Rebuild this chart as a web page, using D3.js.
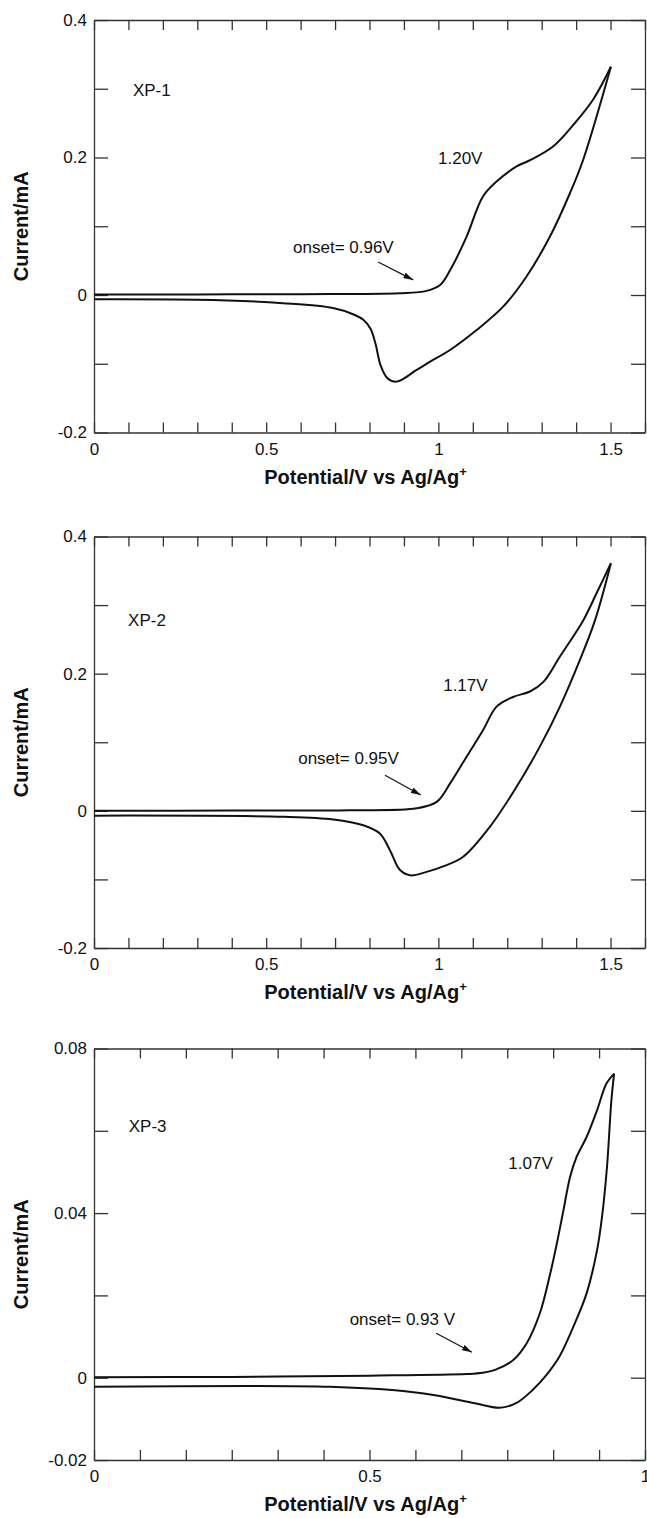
<!DOCTYPE html>
<html>
<head>
<meta charset="utf-8">
<script src="https://cdnjs.cloudflare.com/ajax/libs/d3/7.8.5/d3.min.js"></script>
<style>
  body { margin: 0; background: #fff; }
  svg { display: block; }
</style>
</head>
<body>
<div class="cv"></div>
<script>
//Width and height of the page-sized svg
var widthSVG = 647;
var heightSVG = 1518;
var plotLeft = 94;
var plotRight = 645;
var fontName = "'Liberation Sans', Arial, Helvetica, sans-serif";

// ---- data: [potential V, current mA] ----
// XP-1 forward (anodic) scan and reverse scan
var xp1Forward = [[0,0.0008],[0.3,0.0009],[0.6,0.0012],[0.888,0.0025],[0.966,0.006],[1.005,0.0145],
  [1.034,0.036],[1.082,0.085],[1.129,0.143],[1.169,0.165],[1.227,0.187],[1.266,0.196],
  [1.333,0.216],[1.391,0.247],[1.449,0.284],[1.501,0.332]];
var xp1Reverse = [[1.501,0.332],[1.420,0.196],[1.382,0.148],[1.324,0.085],[1.256,0.027],[1.188,-0.017],
  [1.111,-0.051],[1.034,-0.080],[0.976,-0.097],[0.937,-0.109],[0.879,-0.126],[0.852,-0.121],
  [0.832,-0.102],[0.818,-0.072],[0.803,-0.049],[0.782,-0.036],[0.752,-0.028],[0.694,-0.019],
  [0.549,-0.012],[0.346,-0.0073],[0,-0.0062]];

// XP-2
var xp2Forward = [[0,0.0002],[0.4,0.0004],[0.743,0.0008],[0.937,0.0037],[0.995,0.013],[1.034,0.040],
  [1.082,0.079],[1.130,0.118],[1.169,0.152],[1.217,0.166],[1.266,0.174],[1.305,0.188],
  [1.353,0.225],[1.421,0.278],[1.460,0.318],[1.501,0.361]];
var xp2Reverse = [[1.501,0.361],[1.455,0.278],[1.411,0.220],[1.353,0.152],[1.295,0.094],[1.227,0.035],
  [1.150,-0.023],[1.072,-0.067],[1.014,-0.081],[0.966,-0.089],[0.918,-0.094],[0.888,-0.086],
  [0.859,-0.057],[0.830,-0.033],[0.782,-0.021],[0.695,-0.0125],[0.550,-0.0086],[0,-0.007]];

// XP-3
var xp3Forward = [[0,0.0001],[0.25,0.0002],[0.5,0.0005],[0.676,0.0009],[0.706,0.0012],[0.728,0.0019],
  [0.761,0.0043],[0.785,0.0083],[0.809,0.0156],[0.828,0.0253],[0.840,0.0326],[0.852,0.0407],
  [0.864,0.0488],[0.876,0.0537],[0.894,0.0585],[0.913,0.065],[0.930,0.0715],[0.944,0.0739]];
var xp3Reverse = [[0.944,0.0739],[0.939,0.0674],[0.931,0.0512],[0.922,0.0391],[0.913,0.031],
  [0.894,0.0205],[0.870,0.0124],[0.845,0.0052],[0.822,0.0008],[0.796,-0.003],[0.766,-0.0062],
  [0.736,-0.0073],[0.691,-0.0062],[0.616,-0.0042],[0.541,-0.003],[0.428,-0.0022],
  [0.278,-0.0020],[0,-0.0022]];

// tick labels
var xp1XLabelValues = [0, 0.5, 1, 1.5];
var xp1XLabels = ["0", "0.5", "1", "1.5"];
var xp1YLabelValues = [-0.2, 0, 0.2, 0.4];
var xp1YLabels = ["-0.2", "0", "0.2", "0.4"];
var xp3XLabelValues = [0, 0.5, 1];
var xp3XLabels = ["0", "0.5", "1"];
var xp3YLabelValues = [-0.02, 0, 0.04, 0.08];
var xp3YLabels = ["-0.02", "0", "0.04", "0.08"];

// annotations: [text, V, mA]
var xp1Notes = [["XP-1", 0.113, 0.290], ["1.20V", 0.999, 0.1905], ["onset= 0.96V", 0.578, 0.0615]];
var xp2Notes = [["XP-2", 0.099, 0.2695], ["1.17V", 1.014, 0.174], ["onset= 0.95V", 0.593, 0.069]];
var xp3Notes = [["XP-3", 0.063, 0.0597], ["1.07V", 0.752, 0.0507], ["onset= 0.93 V", 0.464, 0.0128]];
// onset arrows: [from V, from mA, to V, to mA]
var xp1Arrow = [0.825, 0.048, 0.927, 0.022];
var xp2Arrow = [0.845, 0.052, 0.949, 0.023];
var xp3Arrow = [0.621, 0.0108, 0.686, 0.0062];

var panels = [
  { top: 20, bottom: 432.5, xDomain: [0, 1.6], yDomain: [-0.2, 0.4], xStep: 0.1, yStep: 0.1,
    xLV: xp1XLabelValues, xL: xp1XLabels, yLV: xp1YLabelValues, yL: xp1YLabels,
    fwd: xp1Forward, rev: xp1Reverse, notes: xp1Notes, arrow: xp1Arrow },
  { top: 536.5, bottom: 948, xDomain: [0, 1.6], yDomain: [-0.2, 0.4], xStep: 0.1, yStep: 0.1,
    xLV: xp1XLabelValues, xL: xp1XLabels, yLV: xp1YLabelValues, yL: xp1YLabels,
    fwd: xp2Forward, rev: xp2Reverse, notes: xp2Notes, arrow: xp2Arrow },
  { top: 1048.5, bottom: 1460, xDomain: [0, 1], yDomain: [-0.02, 0.08], xStep: 1 / 12, yStep: 0.02,
    xLV: xp3XLabelValues, xL: xp3XLabels, yLV: xp3YLabelValues, yL: xp3YLabels,
    fwd: xp3Forward, rev: xp3Reverse, notes: xp3Notes, arrow: xp3Arrow }
];

//Create SVG element
var svg = d3.select(".cv")
  .append("svg")
  .attr("width", widthSVG)
  .attr("height", heightSVG);

// arrow head
svg.append("defs").append("marker")
  .attr("id", "head")
  .attr("viewBox", "0 0 10 6")
  .attr("refX", 10)
  .attr("refY", 3)
  .attr("markerWidth", 10)
  .attr("markerHeight", 6)
  .attr("markerUnits", "userSpaceOnUse")
  .attr("orient", "auto")
  .append("path")
  .attr("d", "M0,0 L10,3 L0,6 Z")
  .attr("fill", "#111");

function steps(domain, step) {
  var n = Math.round((domain[1] - domain[0]) / step);
  return d3.range(n + 1).map(function(k) { return domain[0] + k * step; });
}

function styleAxis(g) {
  g.selectAll("path, line").attr("stroke", "#333").attr("stroke-width", 1.3);
  g.attr("font-family", fontName).attr("font-size", 17);
  g.selectAll("text").attr("fill", "#111");
}

panels.forEach(function(p) {
  var xScale = d3.scaleLinear().domain(p.xDomain).range([plotLeft, plotRight]);
  var yScale = d3.scaleLinear().domain(p.yDomain).range([p.bottom, p.top]);
  var xTicks = steps(p.xDomain, p.xStep);
  var yTicks = steps(p.yDomain, p.yStep);

  // box with inward ticks on all four sides
  svg.append("g").attr("transform", "translate(0," + p.bottom + ")")
    .call(d3.axisBottom(xScale).tickValues(xTicks).tickSizeInner(-10).tickSizeOuter(0).tickFormat(""))
    .call(styleAxis);
  svg.append("g").attr("transform", "translate(0," + p.top + ")")
    .call(d3.axisTop(xScale).tickValues(xTicks).tickSizeInner(-10).tickSizeOuter(0).tickFormat(""))
    .call(styleAxis);
  svg.append("g").attr("transform", "translate(" + plotLeft + ",0)")
    .call(d3.axisLeft(yScale).tickValues(yTicks).tickSizeInner(-14).tickSizeOuter(0).tickFormat(""))
    .call(styleAxis);
  svg.append("g").attr("transform", "translate(" + plotRight + ",0)")
    .call(d3.axisRight(yScale).tickValues(yTicks).tickSizeInner(-14).tickSizeOuter(0).tickFormat(""))
    .call(styleAxis);

  // tick labels
  svg.append("g").attr("transform", "translate(0," + p.bottom + ")")
    .call(d3.axisBottom(xScale).tickValues(p.xLV).tickSize(0).tickPadding(10)
      .tickFormat(function(d) { return p.xL[p.xLV.indexOf(d)]; }))
    .call(styleAxis)
    .call(function(g) { g.select(".domain").remove(); });
  svg.append("g").attr("transform", "translate(" + plotLeft + ",0)")
    .call(d3.axisLeft(yScale).tickValues(p.yLV).tickSize(0).tickPadding(7)
      .tickFormat(function(d) { return p.yL[p.yLV.indexOf(d)]; }))
    .call(styleAxis)
    .call(function(g) { g.select(".domain").remove(); });

  // axis titles
  var xt = svg.append("text")
    .attr("x", (plotLeft + plotRight) / 2 - 4)
    .attr("y", p.bottom + 51)
    .attr("text-anchor", "middle")
    .attr("font-family", fontName)
    .attr("font-weight", "bold")
    .attr("font-size", 20)
    .attr("fill", "#111")
    .text("Potential/V vs Ag/Ag");
  xt.append("tspan").attr("font-size", 13).attr("dy", -8).text("+");

  svg.append("text")
    .attr("transform", "translate(28," + ((p.top + p.bottom) / 2) + ") rotate(-90)")
    .attr("text-anchor", "middle")
    .attr("font-family", fontName)
    .attr("font-weight", "bold")
    .attr("font-size", 20)
    .attr("fill", "#111")
    .text("Current/mA");

  // the voltammogram
  var line = d3.line()
    .x(function(d) { return xScale(d[0]); })
    .y(function(d) { return yScale(d[1]); })
    .curve(d3.curveCatmullRom.alpha(0.5));

  [p.fwd, p.rev].forEach(function(branch) {
    svg.append("path")
      .datum(branch)
      .attr("d", line)
      .attr("fill", "none")
      .attr("stroke", "#111")
      .attr("stroke-width", 2)
      .attr("stroke-linejoin", "round");
  });

  // labels on the plot
  svg.selectAll(null).data(p.notes).enter()
    .append("text")
    .attr("x", function(d) { return xScale(d[1]); })
    .attr("y", function(d) { return yScale(d[2]); })
    .attr("font-family", fontName)
    .attr("font-size", 17)
    .attr("fill", "#111")
    .text(function(d) { return d[0]; });

  svg.append("line")
    .attr("x1", xScale(p.arrow[0]))
    .attr("y1", yScale(p.arrow[1]))
    .attr("x2", xScale(p.arrow[2]))
    .attr("y2", yScale(p.arrow[3]))
    .attr("stroke", "#111")
    .attr("stroke-width", 1.2)
    .attr("marker-end", "url(#head)");
});
</script>
</body>
</html>
